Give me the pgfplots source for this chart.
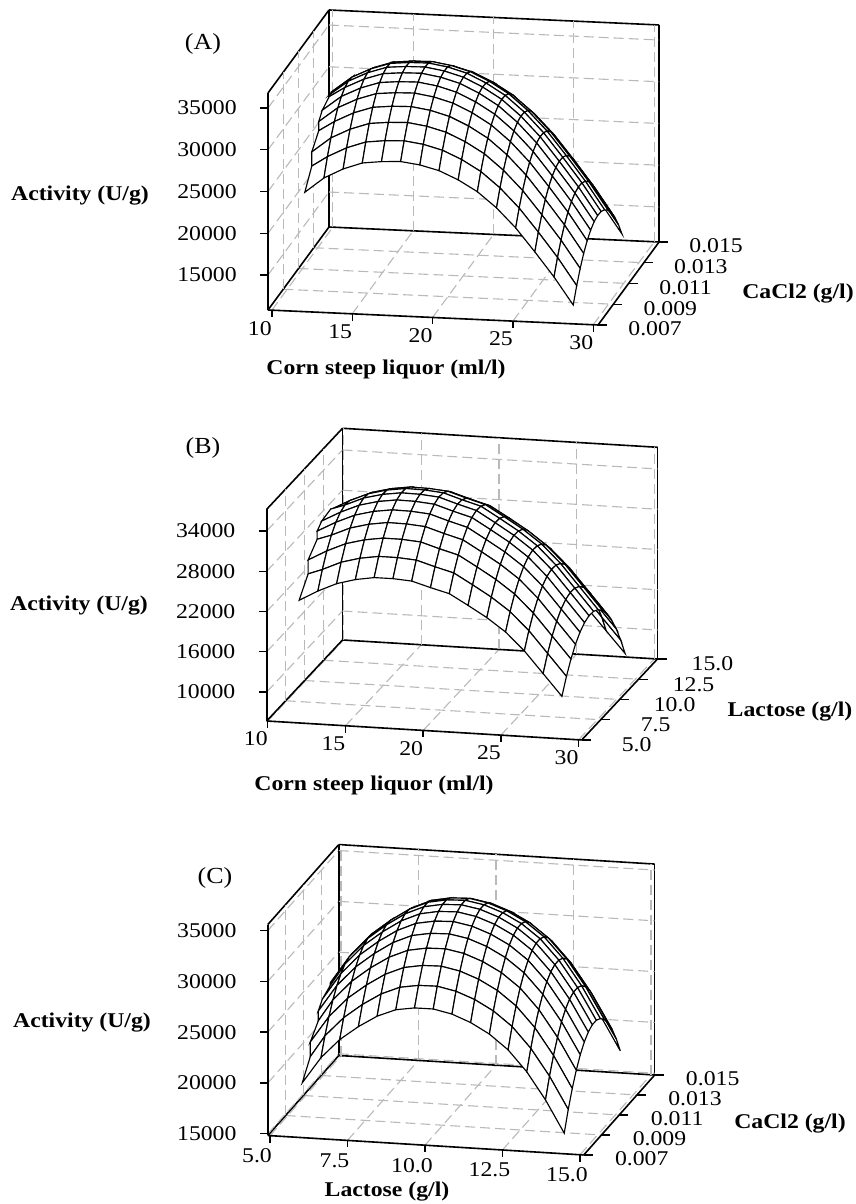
\documentclass[border=0pt]{standalone}
\usepackage{fontspec}
\setmainfont[FakeStretch=1.13]{Liberation Serif}
\usepackage{pgfplots}
\pgfplotsset{compat=1.18}
\pgfplotsset{
  resp/.style={
    anchor=south west, clip=false,
    axis lines=box, 3d box=background,
    grid=major,
    grid style={gray!55,dash pattern=on 10pt off 5pt,line width=1.1pt},
    axis line style={black,line width=1.6pt},
    major tick length=0pt,
    scaled ticks=false,
    scaled z ticks=false,
    tick label style={font=\fontsize{21}{23}\selectfont,anchor=center,inner sep=0pt,outer sep=0pt},
    xticklabel style={xshift=-12pt,yshift=-18pt},
    zticklabel style={xshift=-61pt},
    /pgf/number format/assume math mode=true,
    /pgf/number format/fixed,
    /pgf/number format/1000 sep={},
    colormap={wm}{color(0cm)=(white); color(1cm)=(white)},
  },
  mysurf/.style={surf,shader=faceted,faceted color=black,line width=1.15pt,z buffer=none,mesh/cols=15},
}
\tikzset{tk/.style={black,line width=1.4pt}}
\begin{document}
\begin{tikzpicture}[x=1pt,y=1pt]
\useasboundingbox (0,0) rectangle (855,1204);
% ---------- A
\begin{axis}[resp, at={(268pt,879pt)},
  x={(16.07pt,-0.73pt)}, y={(7625pt,10375pt)}, z={(0pt,0.00835pt)},
  xmin=9.76,xmax=30.3,ymin=0.007,ymax=0.015,zmin=10810,zmax=36800,
  xtick={10,15,20,25,30},
  ytick={0.007,0.009,0.011,0.013,0.015},
  yticklabels={0.007,0.009,0.011,0.013,0.015},
  yticklabel style={xshift=57pt,yshift=-4pt},
  ztick={15000,20000,25000,30000,35000}]
\addplot3[mysurf] table[header=false,z index=0,x expr={11.67+1.193*mod(\coordindex,15)},y expr={0.0142-0.000457*floor(\coordindex/15)}] {
24710
26520
27700
28510
28780
28880
28570
27990
26980
25670
23820
21530
18750
15850
12590
26620
28420
29580
30380
30620
30710
30390
29790
28760
27430
25570
23260
20470
17540
14270
28230
30010
31160
31940
32170
32250
31910
31300
30260
28910
27040
24710
21900
18970
15680
29530
31300
32430
33210
33430
33490
33140
32520
31470
30110
28220
25880
23070
20120
16820
30540
32300
33430
34190
34400
34460
34100
33460
32410
31040
29140
26800
23970
21010
17710
31250
33010
34130
34880
35090
35140
34770
34130
33070
31700
29790
27440
24610
21640
18330
31660
33420
34530
35280
35490
35530
35160
34520
33450
32070
30170
27810
24970
22010
18690
31760
33510
34620
35380
35580
35620
35250
34610
33540
32160
30250
27900
25060
22090
18780
31560
33320
34430
35190
35390
35440
35070
34430
33360
31980
30080
27720
24890
21920
18610
31060
32820
33930
34690
34900
34950
34590
33950
32890
31520
29620
27260
24430
21470
18160
30270
32040
33160
33930
34140
34200
33840
33210
32160
30790
28900
26550
23730
20770
17470
29180
30950
32090
32860
33090
33150
32810
32180
31140
29780
27900
25560
22750
19810
16510
27770
29560
30700
31490
31730
31810
31470
30860
29830
28490
26610
24290
21490
18560
15280
26080
27880
29040
29840
30100
30190
29870
29270
28260
26930
25070
22760
19980
17060
13790
24080
25900
27080
27900
28170
28280
27980
27400
26400
25090
23250
20960
18190
15290
12040
};
\pgfplotsinvokeforeach{10,15,20,25,30}{\draw[tk] (axis cs:#1,0.007,10810) -- ++(0pt,-7pt);}
\pgfplotsinvokeforeach{0.007,0.009,0.011,0.013,0.015}{\draw[tk] (axis cs:30.3,#1,10810) -- ++(9pt,0pt);}
\pgfplotsinvokeforeach{15000,20000,25000,30000,35000}{\draw[tk] (axis cs:9.76,0.007,#1) -- ++(-8pt,0pt);}
\end{axis}
% ---------- B
\begin{axis}[resp, at={(266.7pt,464pt)},
  x={(15.54pt,-0.937pt)}, y={(7.58pt,8.1pt)}, z={(0pt,0.00671pt)},
  xmin=9.93,xmax=30.2,ymin=5,ymax=15,zmin=5680,zmax=37230,
  xtick={10,15,20,25,30},
  ytick={5,7.5,10,12.5,15},
  yticklabels={5.0,7.5,10.0,12.5,15.0},
  yticklabel style={xshift=55pt,yshift=-5pt},
  ztick={10000,16000,22000,28000,34000}]
\addplot3[mysurf] table[header=false,z index=0,x expr={11.61+1.208*mod(\coordindex,15)},y expr={14.17-0.5957*floor(\coordindex/15)}] {
18790
20370
21670
22480
22970
23010
22850
22070
21370
19820
18200
16250
13630
10450
7260
21870
23430
24700
25490
25960
25980
25790
24990
24270
22700
21050
19080
16440
13230
10020
24530
26070
27330
28100
28550
28540
28340
27520
26780
25190
23520
21530
18870
15650
12420
26760
28290
29530
30280
30710
30690
30480
29640
28880
27270
25590
23590
20910
17670
14420
28560
30070
31300
32040
32460
32430
32200
31350
30580
28950
27260
25240
22550
19300
16040
29930
31430
32650
33380
33790
33750
33510
32650
31870
30240
28540
26500
23800
20540
17270
30870
32360
33580
34300
34700
34650
34410
33540
32750
31110
29410
27370
24660
21390
18120
31380
32870
34080
34800
35200
35150
34890
34020
33230
31590
29880
27840
25130
21860
18580
31460
32950
34160
34870
35270
35220
34970
34100
33310
31660
29950
27910
25200
21930
18650
31110
32600
33810
34530
34930
34880
34630
33760
32980
31340
29630
27590
24880
21610
18330
30330
31820
33040
33770
34170
34130
33890
33020
32240
30600
28900
26870
24160
20900
17630
29120
30620
31850
32580
33000
32960
32730
31870
31100
29470
27780
25750
23060
19800
16540
27470
28990
30230
30970
31400
31380
31160
30310
29550
27940
26250
24240
21560
18320
15060
25400
26940
28190
28950
29390
29380
29180
28350
27600
26000
24330
22340
19670
16440
13200
22900
24450
25720
26500
26960
26970
26780
25970
25240
23660
22010
20030
17380
14170
10950
};
\pgfplotsinvokeforeach{10,15,20,25,30}{\draw[tk] (axis cs:#1,5,5680) -- ++(0pt,-7pt);}
\pgfplotsinvokeforeach{5,7.5,10,12.5,15}{\draw[tk] (axis cs:30.2,#1,5680) -- ++(9pt,0pt);}
\pgfplotsinvokeforeach{10000,16000,22000,28000,34000}{\draw[tk] (axis cs:9.93,5,#1) -- ++(-8pt,0pt);}
\end{axis}
% ---------- C
\begin{axis}[resp, at={(267.8pt,49pt)},
  x={(31pt,-1.914pt)}, y={(8875pt,10000pt)}, z={(0pt,0.01016pt)},
  xmin=4.93,xmax=15.12,ymin=0.007,ymax=0.015,zmin=14830,zmax=35590,
  xtick={5,7.5,10,12.5,15},
  xticklabels={5.0,7.5,10.0,12.5,15.0},
  xticklabel style={xshift=-1pt,yshift=-2pt},
  ytick={0.007,0.009,0.011,0.013,0.015},
  yticklabels={0.007,0.009,0.011,0.013,0.015},
  yticklabel style={xshift=58pt,yshift=-4pt},
  ztick={15000,20000,25000,30000,35000}]
\addplot3[mysurf] table[header=false,z index=0,x expr={5.80+0.6036*mod(\coordindex,15)},y expr={0.01416-0.000451*floor(\coordindex/15)}] {
21030
23640
25540
26950
28100
28870
29170
29200
28820
28120
27110
25690
23650
21020
17870
22470
25090
27010
28420
29590
30370
30690
30730
30360
29670
28680
27270
25250
22620
19490
23670
26300
28230
29660
30830
31620
31950
32000
31650
30970
29990
28590
26580
23960
20840
24630
27270
29200
30640
31830
32630
32960
33020
32680
32010
31030
29640
27640
25040
21920
25350
27990
29940
31380
32570
33380
33720
33790
33450
32780
31820
30430
28440
25840
22730
25830
28480
30430
31870
33070
33880
34230
34300
33960
33300
32340
30960
28970
26380
23270
26070
28720
30670
32120
33320
34130
34480
34550
34220
33560
32600
31220
29230
26640
23540
26070
28720
30670
32120
33320
34130
34480
34550
34220
33560
32600
31220
29230
26640
23540
25830
28480
30430
31870
33070
33880
34230
34300
33960
33300
32340
30960
28970
26380
23270
25350
27990
29940
31380
32570
33380
33720
33790
33450
32780
31820
30430
28440
25840
22730
24630
27270
29200
30640
31830
32630
32960
33020
32680
32010
31030
29640
27640
25040
21920
23670
26300
28230
29660
30830
31620
31950
32000
31650
30970
29990
28590
26580
23960
20840
22470
25090
27010
28420
29590
30370
30690
30730
30360
29670
28680
27270
25250
22620
19490
21030
23640
25540
26950
28100
28870
29170
29200
28820
28120
27110
25690
23650
21020
17870
19350
21940
23830
25220
26360
27110
27400
27410
27020
26300
25280
23840
21790
19140
15980
};
\pgfplotsinvokeforeach{5,7.5,10,12.5,15}{\draw[tk] (axis cs:#1,0.007,14830) -- ++(0pt,-7pt);}
\pgfplotsinvokeforeach{0.007,0.009,0.011,0.013,0.015}{\draw[tk] (axis cs:15.12,#1,14830) -- ++(9pt,0pt);}
\pgfplotsinvokeforeach{15000,20000,25000,30000,35000}{\draw[tk] (axis cs:4.93,0.007,#1) -- ++(-8pt,0pt);}
\end{axis}
% labels (picture coordinates: x, 1204-y)
\tikzset{lab/.style={font=\fontsize{21}{23}\selectfont\bfseries,inner sep=0pt},pan/.style={font=\fontsize{23}{25}\selectfont,inner sep=0pt}}
\node[pan] at (203,1160) {(A)};
\node[lab] at (80,1008) {Activity (U/g)};
\node[lab] at (386,835) {Corn steep liquor (ml/l)};
\node[lab] at (798,910) {CaCl2 (g/l)};
\node[pan] at (203,756) {(B)};
\node[lab] at (79,598) {Activity (U/g)};
\node[lab] at (374,419) {Corn steep liquor (ml/l)};
\node[lab] at (790,492) {Lactose (g/l)};
\node[pan] at (215,326) {(C)};
\node[lab] at (82,181) {Activity (U/g)};
\node[lab] at (387,12) {Lactose (g/l)};
\node[lab] at (790,80) {CaCl2 (g/l)};
\end{tikzpicture}
\end{document}
